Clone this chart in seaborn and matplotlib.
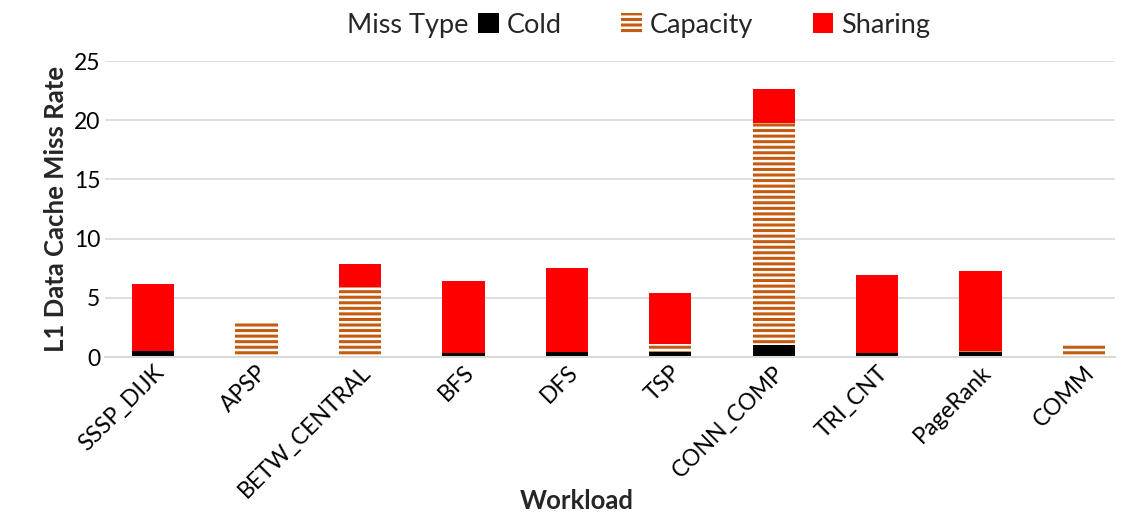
import matplotlib
matplotlib.use("Agg")
import matplotlib.pyplot as plt
import numpy as np
import pandas as pd
import seaborn as sns
from matplotlib.patches import Patch

workloads = ["SSSP_DIJK", "APSP", "BETW_CENTRAL", "BFS", "DFS", "TSP",
             "CONN_COMP", "TRI_CNT", "PageRank", "COMM"]
cold = [0.5, 0.05, 0.05, 0.3, 0.4, 0.4, 1.0, 0.35, 0.45, 0.1]
capacity = [0.0, 2.8, 5.85, 0.0, 0.0, 0.7, 18.75, 0.0, 0.05, 0.9]
sharing = [5.7, 0.0, 1.95, 6.1, 7.1, 4.3, 2.85, 6.55, 6.8, 0.0]

df = pd.DataFrame({"Workload": workloads, "Cold": cold,
                   "Capacity": capacity, "Sharing": sharing})
df["base2"] = df["Cold"] + df["Capacity"]

sns.set_style("white")
plt.rcParams["font.family"] = ["Lato", "DejaVu Sans"]
plt.rcParams["hatch.linewidth"] = 2.2
plt.rcParams["hatch.color"] = "#C55A11"

fig = plt.figure(figsize=(11.36, 5.29), dpi=100)
ax = fig.add_axes([105 / 1136, 1 - 357 / 529, 1010 / 1136, 296 / 529])

w = 0.41
sns.barplot(data=df, x="Workload", y="Cold", color="black", width=w,
            saturation=1, ax=ax, linewidth=0)
sns.barplot(data=df, x="Workload", y="Capacity", bottom=df["Cold"],
            color="white", width=w, saturation=1, ax=ax, hatch="---",
            edgecolor="#C55A11", linewidth=0)
sns.barplot(data=df, x="Workload", y="Sharing", bottom=df["base2"],
            color="#FF0000", width=w, saturation=1, ax=ax, linewidth=0)

ax.set_xlim(-0.464, 9.299)
ax.set_ylim(0, 25)
ax.set_yticks([0, 5, 10, 15, 20, 25])
ax.yaxis.grid(True, color="#D9D9D9", linewidth=1.2)
ax.set_axisbelow(True)
for s in ["top", "right", "left"]:
    ax.spines[s].set_visible(False)
ax.spines["bottom"].set_color("#D9D9D9")
ax.spines["bottom"].set_linewidth(1.5)
ax.tick_params(axis="both", length=0, labelsize=16.5, colors="black")
plt.setp(ax.get_xticklabels(), rotation=45, ha="right",
         rotation_mode="anchor")
ax.set_xlabel("Workload", fontsize=18.5, fontweight="bold", va="center")
ax.xaxis.set_label_coords(0.467, -0.485)
ax.set_ylabel("L1 Data Cache Miss Rate", fontsize=18.5, fontweight="bold")

handles = [Patch(facecolor="black", edgecolor="none"),
           Patch(facecolor="white", edgecolor="#C55A11", hatch="---",
                 linewidth=0),
           Patch(facecolor="#FF0000", edgecolor="none")]
fig.text(347 / 1136, 1 - 25 / 529, "Miss Type", fontsize=19.5,
         va="center", ha="left")
fig.legend(handles, ["Cold", "Capacity", "Sharing"], ncol=3,
           loc="center left", bbox_to_anchor=(454 / 1136, 1 - 25 / 529),
           frameon=False, fontsize=19.5, handlelength=0.75, handleheight=0.75,
           handletextpad=0.3, columnspacing=2.2)

fig.savefig("out.png", dpi=100)
